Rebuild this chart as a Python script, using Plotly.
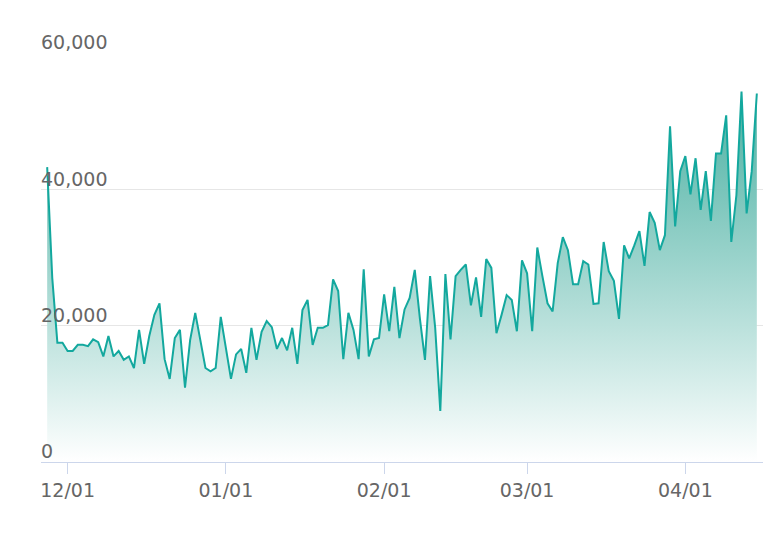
import plotly.graph_objects as go
import pandas as pd

start_date = "2022-11-27"
values = [
    43300, 27000, 17500, 17500, 16300, 16300, 17200, 17200, 17000, 18000,
    17600, 15500, 18500, 15500, 16300, 15000, 15500, 13800, 19400, 14400,
    18500, 21600, 23300, 15100, 12200, 18200, 19400, 10900, 17900, 21900,
    17900, 13800, 13300, 13800, 21300, 16700, 12200, 15800, 16600, 13100,
    19700, 15000, 19100, 20700, 19800, 16600, 18200, 16400,
    19700, 14400, 22300, 23800, 17200, 19700, 19700, 20100, 26800, 25100,
    15100, 21900, 19400, 15100, 28300, 15500, 18000, 18200, 24600, 19200,
    25700, 18200, 22400, 24100, 28200, 21100, 15000, 27300, 19700, 7500,
    27600, 18000, 27300, 28200, 29000, 23000, 27100, 21300, 29800, 28500,
    18900, 21600, 24500, 23800, 19200, 29600,
    27700, 19200, 31500, 27300, 23300, 22100, 29200, 33000, 31100, 26100,
    26100, 29500, 29000, 23200, 23300, 32300, 28000, 26600, 21000, 31800,
    29900, 31800, 33900, 28800, 36700, 35100, 31100, 33300, 49300, 34600,
    42700, 44900, 39300, 44600, 37000, 42700, 35400, 45300, 45300, 50900,
    32300, 39200, 54400, 36500, 42700, 54100,
]
y_ticks = [0, 20000, 40000, 60000]
y_tick_labels = ["0", "20,000", "40,000", "60,000"]
dates = pd.date_range(start_date, periods=len(values), freq="D")

fig = go.Figure()
fig.add_trace(go.Scatter(
    x=dates, y=values, mode="lines",
    line=dict(color="#13a89e", width=2),
    fill="tozeroy",
    fillgradient=dict(type="vertical",
                      colorscale=[[0, "rgba(255,255,255,1)"], [1, "rgba(60,170,155,0.95)"]],
                      start=0, stop=56000),
    hoverinfo="skip",
))

for v, t in zip(y_ticks, y_tick_labels):
    fig.add_annotation(x=0, xref="paper", y=v, yref="y", text=t, showarrow=False,
                       xanchor="left", yanchor="bottom", xshift=-2, yshift=-2,
                       font=dict(family="DejaVu Sans", size=19, color="#666666"))

fig.update_layout(
    width=782, height=534,
    margin=dict(l=33, r=27, t=45, b=80, autoexpand=False),
    paper_bgcolor="white", plot_bgcolor="white",
    showlegend=False,
    font=dict(family="DejaVu Sans", size=19, color="#666666"),
)
fig.update_xaxes(
    range=[pd.Timestamp("2022-11-25 19:00"), pd.Timestamp("2023-04-16 05:00")],
    dtick="M1", tick0="2022-12-01", tickformat="%m/%d",
    ticks="outside", ticklen=11, tickcolor="#ccd6eb", tickwidth=1,
    showline=True, linecolor="#ccd6eb", linewidth=1,
    showgrid=False, zeroline=False, automargin=False,
)
fig.update_yaxes(
    range=[0, 60050], tickvals=y_ticks, showticklabels=False,
    showgrid=True, gridcolor="#e6e6e6", gridwidth=1,
    zeroline=False, showline=False, automargin=False,
)
fig.write_html("out.html")
